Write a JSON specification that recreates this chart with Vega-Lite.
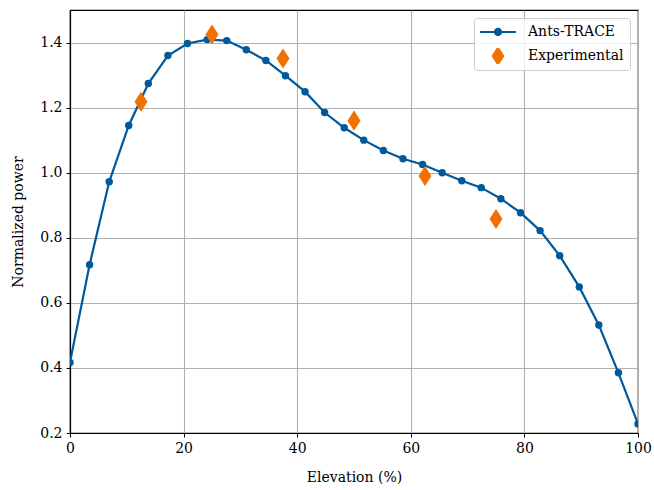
{
  "$schema": "https://vega.github.io/schema/vega-lite/v6.json",
  "width": 568,
  "height": 423,
  "autosize": {"type": "none"},
  "padding": {"left": 70, "top": 10, "right": 16, "bottom": 57},
  "background": "white",
  "config": {
    "view": {"stroke": "black", "strokeWidth": 1.2},
    "font": "DejaVu Serif",
    "axis": {
      "domainColor": "black", "domainWidth": 1.2,
      "tickColor": "black", "tickSize": 4, "tickWidth": 1,
      "gridColor": "#b0b0b0", "gridWidth": 1.1, "gridOpacity": 1,
      "labelFlush": false, "labelOverlap": false,
      "labelFont": "DejaVu Serif", "labelFontSize": 14, "labelColor": "black", "labelPadding": 4,
      "titleFont": "DejaVu Serif", "titleFontSize": 14, "titleFontWeight": "normal", "titleColor": "black"
    },
    "legend": {
      "labelFont": "DejaVu Serif", "labelFontSize": 14, "labelColor": "black"
    }
  },
  "datasets": {
    "model": [
      {"x": 0, "y": 0.417}, {"x": 3.45, "y": 0.717}, {"x": 6.9, "y": 0.972}, {"x": 10.34, "y": 1.145},
      {"x": 13.79, "y": 1.274}, {"x": 17.24, "y": 1.36}, {"x": 20.69, "y": 1.397}, {"x": 24.14, "y": 1.409},
      {"x": 27.59, "y": 1.406}, {"x": 31.03, "y": 1.378}, {"x": 34.48, "y": 1.345}, {"x": 37.93, "y": 1.298},
      {"x": 41.38, "y": 1.249}, {"x": 44.83, "y": 1.185}, {"x": 48.28, "y": 1.138}, {"x": 51.72, "y": 1.1},
      {"x": 55.17, "y": 1.068}, {"x": 58.62, "y": 1.043}, {"x": 62.07, "y": 1.025}, {"x": 65.52, "y": 1.0},
      {"x": 68.97, "y": 0.975}, {"x": 72.41, "y": 0.954}, {"x": 75.86, "y": 0.92}, {"x": 79.31, "y": 0.877},
      {"x": 82.76, "y": 0.822}, {"x": 86.21, "y": 0.745}, {"x": 89.66, "y": 0.649}, {"x": 93.1, "y": 0.532},
      {"x": 96.55, "y": 0.385}, {"x": 100, "y": 0.228}
    ],
    "exp": [
      {"x": 12.5, "y": 1.218, "series": "Experimental"},
      {"x": 25, "y": 1.425, "series": "Experimental"},
      {"x": 37.5, "y": 1.351, "series": "Experimental"},
      {"x": 50, "y": 1.16, "series": "Experimental"},
      {"x": 62.5, "y": 0.99, "series": "Experimental"},
      {"x": 75, "y": 0.858, "series": "Experimental"}
    ]
  },
  "encoding": {
    "x": {"field": "x", "type": "quantitative",
      "scale": {"domain": [0, 100], "nice": false, "zero": false},
      "axis": {"values": [0, 20, 40, 60, 80, 100], "title": "Elevation (%)", "titlePadding": 15}},
    "y": {"field": "y", "type": "quantitative",
      "scale": {"domain": [0.2, 1.5], "nice": false, "zero": false},
      "axis": {"values": [0.2, 0.4, 0.6, 0.8, 1.0, 1.2, 1.4], "format": ".1f", "title": "Normalized power", "titlePadding": 14}}
  },
  "layer": [
    {"data": {"name": "model"}, "mark": {"type": "line", "color": "#00599a", "strokeWidth": 2.2, "clip": true}},
    {"data": {"name": "model"}, "mark": {"type": "point", "filled": true, "color": "#00599a", "size": 55, "opacity": 1, "shape": "circle", "clip": true}},
    {"data": {"name": "exp"},
      "mark": {"type": "point", "filled": true, "size": 1296, "opacity": 1, "strokeWidth": 0},
      "encoding": {
        "color": {"field": "series", "type": "nominal",
          "scale": {"domain": ["Ants-TRACE", "Experimental"], "range": ["#00599a", "#f07000"]},
          "legend": {"title": null}},
        "shape": {"field": "series", "type": "nominal",
          "scale": {"domain": ["Ants-TRACE", "Experimental"],
            "range": ["M-1,-0.06H1V0.06H-1Z M-0.23,0A0.23,0.23,0,1,1,0.23,0A0.23,0.23,0,1,1,-0.23,0Z", "M0,-0.556L0.36,0L0,0.556L-0.36,0Z"]},
          "legend": {
            "title": null, "orient": "top-right", "offset": 8, "padding": 6,
            "fillColor": "rgba(255,255,255,0.8)", "strokeColor": "#cccccc", "cornerRadius": 3,
            "symbolSize": 1296, "symbolStrokeWidth": 0, "symbolOpacity": 1,
            "clipHeight": 16, "rowPadding": 8, "labelOffset": 12
          }}
      }}
  ]
}
